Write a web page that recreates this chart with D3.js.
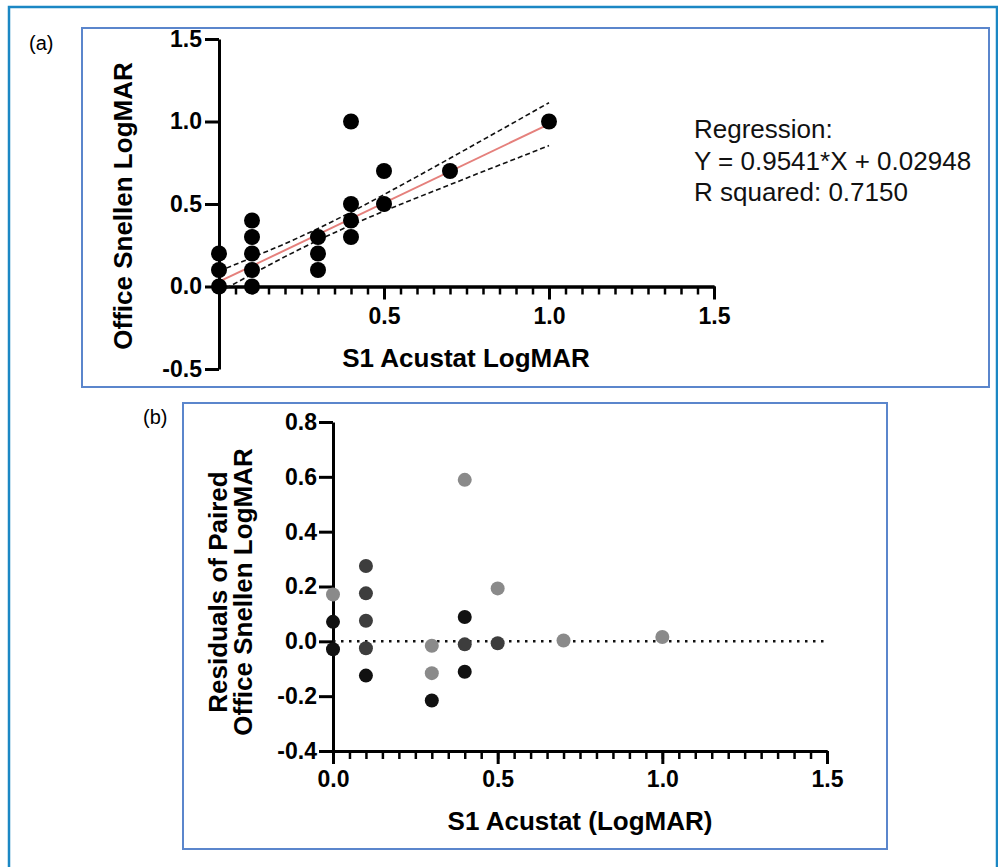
<!DOCTYPE html>
<head>
<meta charset="utf-8">
<title>S1 Acustat vs Office Snellen</title>
<script src="https://d3js.org/d3.v7.min.js"></script>
<style>
body { margin: 0; background: #fff; }
svg text { font-family: "Liberation Sans", Arial, Helvetica, sans-serif; }
.axis text { font-size: 23px; font-weight: bold; fill: #000; }
.axis path, .axis line { stroke: #000; stroke-width: 3; }
.minor line { stroke-width: 2.5; }
.title { font-size: 26px; font-weight: bold; fill: #000; }
</style>
</head>
<body>
<div id="container"></div>
<script>
//*******************
// data
//*******************
// panel (a): paired LogMAR values
const acustatA = [0, 0, 0, 0.1, 0.1, 0.1, 0.1, 0.1, 0.3, 0.3, 0.3, 0.4, 0.4, 0.4, 0.4, 0.5, 0.5, 0.7, 1.0];
const snellenA = [0.2, 0.1, 0.0, 0.4, 0.3, 0.2, 0.1, 0.0, 0.3, 0.2, 0.1, 1.0, 0.5, 0.4, 0.3, 0.7, 0.5, 0.7, 1.0];

// fitted line and 95% band (estimated)
const fitX = [0, 1.0];
const fitY = [0.029, 0.984];
const bandX = [0, 0.1, 0.2, 0.3, 0.4, 0.5, 0.6, 0.7, 0.8, 0.9, 1.0];
const bandUpper = [0.093, 0.175, 0.259, 0.351, 0.450, 0.557, 0.666, 0.777, 0.889, 1.001, 1.114];
const bandLower = [-0.035, 0.075, 0.181, 0.281, 0.372, 0.457, 0.538, 0.617, 0.697, 0.775, 0.854];

const regText = ["Regression:", "Y = 0.9541*X + 0.02948", "R squared: 0.7150"];

// panel (b): residuals
const acustatB = [0, 0, 0, 0.1, 0.1, 0.1, 0.1, 0.1, 0.3, 0.3, 0.3, 0.4, 0.4, 0.4, 0.4, 0.5, 0.5, 0.7, 1.0];
const residB = [0.171, 0.071, -0.029, 0.275, 0.175, 0.075, -0.025, -0.125, -0.016, -0.116, -0.216, 0.589, 0.089, -0.011, -0.111, 0.193, -0.007, 0.003, 0.016];
const shadeB = ["g", "k", "k", "d", "d", "d", "d", "k", "g", "g", "k", "g", "k", "d", "k", "g", "d", "g", "g"];

const yTicksA = [-0.5, 0, 0.5, 1.0, 1.5];
const xTicksA = [0.5, 1.0, 1.5];
const yTicksB = [-0.4, -0.2, 0, 0.2, 0.4, 0.6, 0.8];
const xTicksB = [0, 0.5, 1.0, 1.5];
const minorX = d3.range(0, 31).map(i => i * 0.05);

const shadeColor = { k: "#111111", d: "#3d3d3d", g: "#8a8a8a" };
const fmt = d => d.toFixed(1);

//*******************
// svg + frames
//*******************
const svg = d3.select("#container").append("svg")
    .attr("width", 998)
    .attr("height", 867);

svg.append("path")
    .attr("d", "M9,867 V7 H997 V867")
    .attr("fill", "none")
    .attr("stroke", "#1b87c4")
    .attr("stroke-width", 2.5);

svg.append("rect")
    .attr("x", 82).attr("y", 28).attr("width", 907).attr("height", 359)
    .attr("fill", "none").attr("stroke", "#5b86cc").attr("stroke-width", 2);

svg.append("rect")
    .attr("x", 183).attr("y", 403).attr("width", 704).attr("height", 446)
    .attr("fill", "none").attr("stroke", "#5b86cc").attr("stroke-width", 2);

svg.append("text").attr("x", 29).attr("y", 50)
    .style("font-size", "20px").text("(a)");
svg.append("text").attr("x", 143).attr("y", 424)
    .style("font-size", "20px").text("(b)");

//*******************
// panel (a)
//*******************
const xA = d3.scaleLinear().domain([0, 1.5]).range([219, 714]);
const yA = d3.scaleLinear().domain([-0.5, 1.5]).range([369, 39]);

svg.append("g")
    .attr("class", "axis minor")
    .attr("transform", "translate(0," + yA(0) + ")")
    .call(d3.axisBottom(xA).tickValues(minorX).tickSize(8).tickSizeOuter(0).tickFormat(""));

svg.append("g")
    .attr("class", "axis")
    .attr("transform", "translate(0," + yA(0) + ")")
    .call(d3.axisBottom(xA).tickValues(xTicksA).tickSize(13).tickSizeOuter(0).tickPadding(8).tickFormat(fmt));

svg.append("g")
    .attr("class", "axis")
    .attr("transform", "translate(" + xA(0) + ",0)")
    .call(d3.axisLeft(yA).tickValues(yTicksA).tickSize(14).tickSizeOuter(0).tickPadding(3).tickFormat(fmt));

const bandLine = d3.line().x(d => xA(d[0])).y(d => yA(d[1]));

[bandUpper, bandLower].forEach(function(b) {
    svg.append("path")
        .attr("d", bandLine(bandX.map((x, i) => [x, b[i]])))
        .attr("fill", "none")
        .attr("stroke", "#111")
        .attr("stroke-width", 1.6)
        .attr("stroke-dasharray", "5,3");
});

svg.append("path")
    .attr("d", bandLine(fitX.map((x, i) => [x, fitY[i]])))
    .attr("fill", "none")
    .attr("stroke", "#e5807c")
    .attr("stroke-width", 2);

svg.append("g").selectAll("circle")
    .data(acustatA)
    .enter()
    .append("circle")
    .attr("cx", d => xA(d))
    .attr("cy", (d, i) => yA(snellenA[i]))
    .attr("r", 8)
    .attr("fill", "#000");

svg.append("text")
    .attr("class", "title")
    .attr("x", 466).attr("y", 367)
    .attr("text-anchor", "middle")
    .text("S1 Acustat LogMAR");

svg.append("text")
    .attr("class", "title")
    .attr("transform", "translate(132,206) rotate(-90)")
    .attr("text-anchor", "middle")
    .text("Office Snellen LogMAR");

svg.append("g").selectAll("text")
    .data(regText)
    .enter()
    .append("text")
    .attr("x", 694)
    .attr("y", (d, i) => 138 + i * 31.5)
    .style("font-size", "26px")
    .style("fill", "#111")
    .text(d => d);

//*******************
// panel (b)
//*******************
const xB = d3.scaleLinear().domain([0, 1.5]).range([333, 827]);
const yB = d3.scaleLinear().domain([-0.4, 0.8]).range([751, 422]);

svg.append("g")
    .attr("class", "axis minor")
    .attr("transform", "translate(0," + yB(-0.4) + ")")
    .call(d3.axisBottom(xB).tickValues(minorX).tickSize(8).tickSizeOuter(0).tickFormat(""));

svg.append("g")
    .attr("class", "axis")
    .attr("transform", "translate(0," + yB(-0.4) + ")")
    .call(d3.axisBottom(xB).tickValues(xTicksB).tickSize(13).tickSizeOuter(0).tickPadding(7).tickFormat(fmt));

svg.append("g")
    .attr("class", "axis")
    .attr("transform", "translate(" + xB(0) + ",0)")
    .call(d3.axisLeft(yB).tickValues(yTicksB).tickSize(14).tickSizeOuter(0).tickPadding(2).tickFormat(fmt));

svg.append("line")
    .attr("x1", xB(0)).attr("x2", xB(1.5))
    .attr("y1", yB(0)).attr("y2", yB(0))
    .attr("stroke", "#111")
    .attr("stroke-width", 2.5)
    .attr("stroke-dasharray", "2.5,5.5");

svg.append("g").selectAll("circle")
    .data(acustatB)
    .enter()
    .append("circle")
    .attr("cx", d => xB(d))
    .attr("cy", (d, i) => yB(residB[i]))
    .attr("r", 7)
    .attr("fill", (d, i) => shadeColor[shadeB[i]]);

svg.append("text")
    .attr("class", "title")
    .attr("x", 580).attr("y", 830)
    .attr("text-anchor", "middle")
    .text("S1 Acustat (LogMAR)");

svg.append("text")
    .attr("class", "title")
    .attr("transform", "translate(227,592) rotate(-90)")
    .attr("text-anchor", "middle")
    .text("Residuals of Paired");

svg.append("text")
    .attr("class", "title")
    .attr("transform", "translate(252,592) rotate(-90)")
    .attr("text-anchor", "middle")
    .text("Office Snellen LogMAR");
</script>
</body>
